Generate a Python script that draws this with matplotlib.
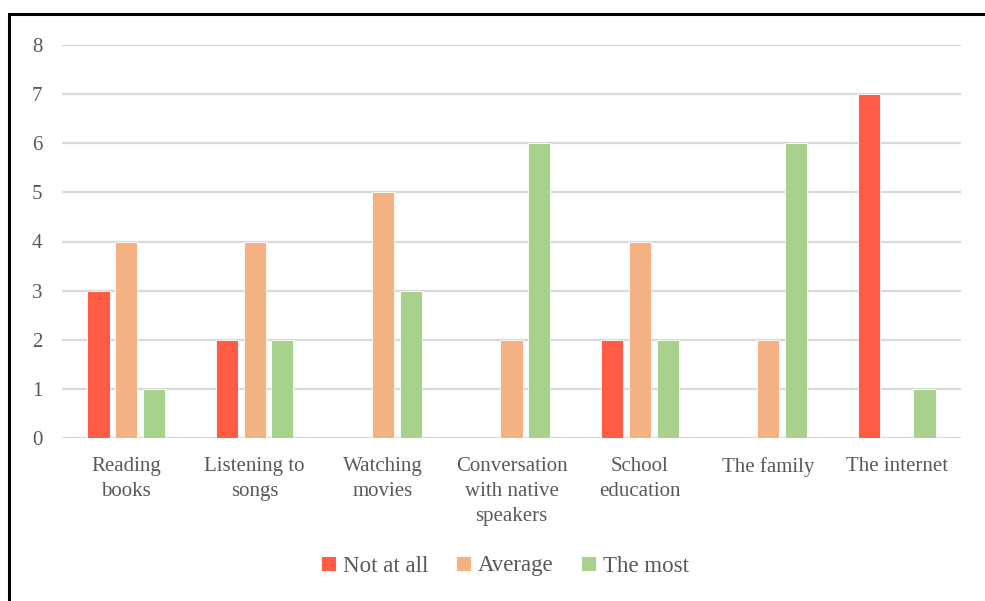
import matplotlib
matplotlib.use("Agg")
import matplotlib.pyplot as plt
from matplotlib.patches import Rectangle
import numpy as np

categories = ["Reading\nbooks", "Listening to\nsongs", "Watching\nmovies",
              "Conversation\nwith native\nspeakers", "School\neducation",
              "The family", "The internet"]
series_names = ["Not at all", "Average", "The most"]
not_at_all = [3, 2, 0, 0, 2, 0, 7]
average = [4, 4, 5, 2, 4, 2, 0]
the_most = [1, 2, 3, 6, 2, 6, 1]
colors = ["#FF5B45", "#F4B183", "#A9D18E"]
yticks = [0, 1, 2, 3, 4, 5, 6, 7, 8]

plt.rcParams['font.family'] = ['Liberation Serif', 'DejaVu Serif']

fig = plt.figure(figsize=(9.85, 6.01), dpi=100)
ax = fig.add_axes([62/985, 1-438/601, (961-62)/985, (438-45)/601])

x = np.arange(len(categories))
step = 0.216
width = 0.172
for i, (vals, name, c) in enumerate(zip([not_at_all, average, the_most], series_names, colors)):
    ax.bar(x + (i-1)*step, vals, width=width, color=c, label=name,
           edgecolor='white', linewidth=0.6, zorder=3)

ax.set_xlim(-0.5, len(categories)-0.5)
ax.set_ylim(0, 8)
ax.set_yticks(yticks)
ax.set_yticklabels([str(t) for t in yticks])
ax.set_xticks(x)
ax.set_xticklabels(categories, linespacing=1.42)
ax.grid(axis='y', color='#D9D9D9', linewidth=1.6, zorder=0)
ax.set_axisbelow(True)
for s in ax.spines.values():
    s.set_visible(False)
ax.tick_params(axis='both', length=0, labelsize=15, labelcolor='#595959')
ax.tick_params(axis='y', pad=14)
ax.tick_params(axis='x', pad=14)

leg = fig.legend(loc='center', bbox_to_anchor=(505/985, 1-566/601), ncol=3,
                 frameon=False, fontsize=16.5, handlelength=0.65, handleheight=0.65,
                 handletextpad=0.3, columnspacing=1.2)
for t in leg.get_texts():
    t.set_color('#595959')

# figure border (left and top visible)
fig.patches.append(Rectangle((9/985, -0.1), 1.2, 1.1 - 14/601,
                             transform=fig.transFigure, fill=False,
                             edgecolor='black', linewidth=2.2, zorder=10))

fig.savefig("out.png", dpi=100)
